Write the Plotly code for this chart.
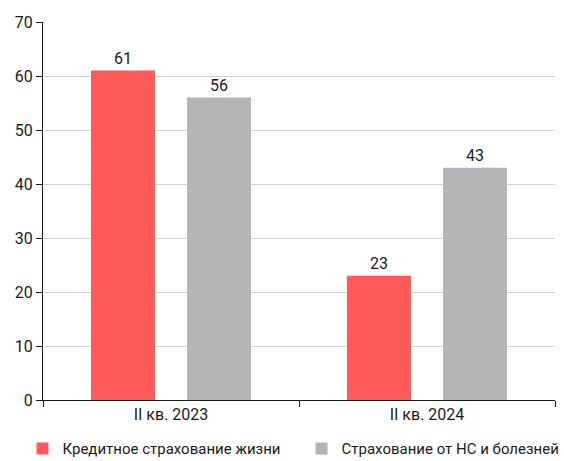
import plotly.graph_objects as go

categories = ["II кв. 2023", "II кв. 2024"]
series_names = ["Кредитное страхование жизни", "Страхование от НС и болезней"]
credit_life = [61, 23]
accident_health = [56, 43]
colors = ["#FF5A5A", "#B5B5B7"]
y_ticks = [0, 10, 20, 30, 40, 50, 60, 70]

FONT = "Roboto, sans-serif"
INK = "#1a1a1a"

fig = go.Figure()
for name, vals, col, leg in zip(series_names, [credit_life, accident_health], colors,
                                ["legend", "legend2"]):
    fig.add_trace(go.Bar(
        x=categories, y=vals, name=name, marker=dict(color=col, line=dict(width=0)),
        text=[str(v) for v in vals], textposition="outside",
        textfont=dict(family=FONT, size=16, color=INK),
        cliponaxis=False, legend=leg,
    ))

legend_style = dict(orientation="h", xanchor="left", y=-0.085, yanchor="top",
                    font=dict(family=FONT, size=15, color=INK),
                    itemwidth=30, bgcolor="rgba(0,0,0,0)")

fig.update_layout(
    width=564, height=461,
    margin=dict(l=43, r=9, t=22, b=61, autoexpand=False),
    paper_bgcolor="white", plot_bgcolor="white",
    barmode="group", bargap=0.25, bargroupgap=1/3,
    font=dict(family=FONT, size=16, color=INK),
    showlegend=True,
    legend=dict(x=-0.04, **legend_style),
    legend2=dict(x=0.505, **legend_style),
)
fig.update_xaxes(
    showline=True, linecolor=INK, linewidth=1,
    ticks="outside", tickson="boundaries", ticklen=6, tickcolor=INK,
    tickfont=dict(family=FONT, size=16, color=INK),
)
fig.update_yaxes(
    range=[0, 70], tickvals=y_ticks,
    showline=True, linecolor=INK, linewidth=1,
    ticks="outside", ticklen=6, tickcolor=INK,
    showgrid=True, gridcolor="#D3D3D3", gridwidth=1,
    zeroline=False,
    tickfont=dict(family=FONT, size=16, color=INK),
)

fig.write_html("out.html")
